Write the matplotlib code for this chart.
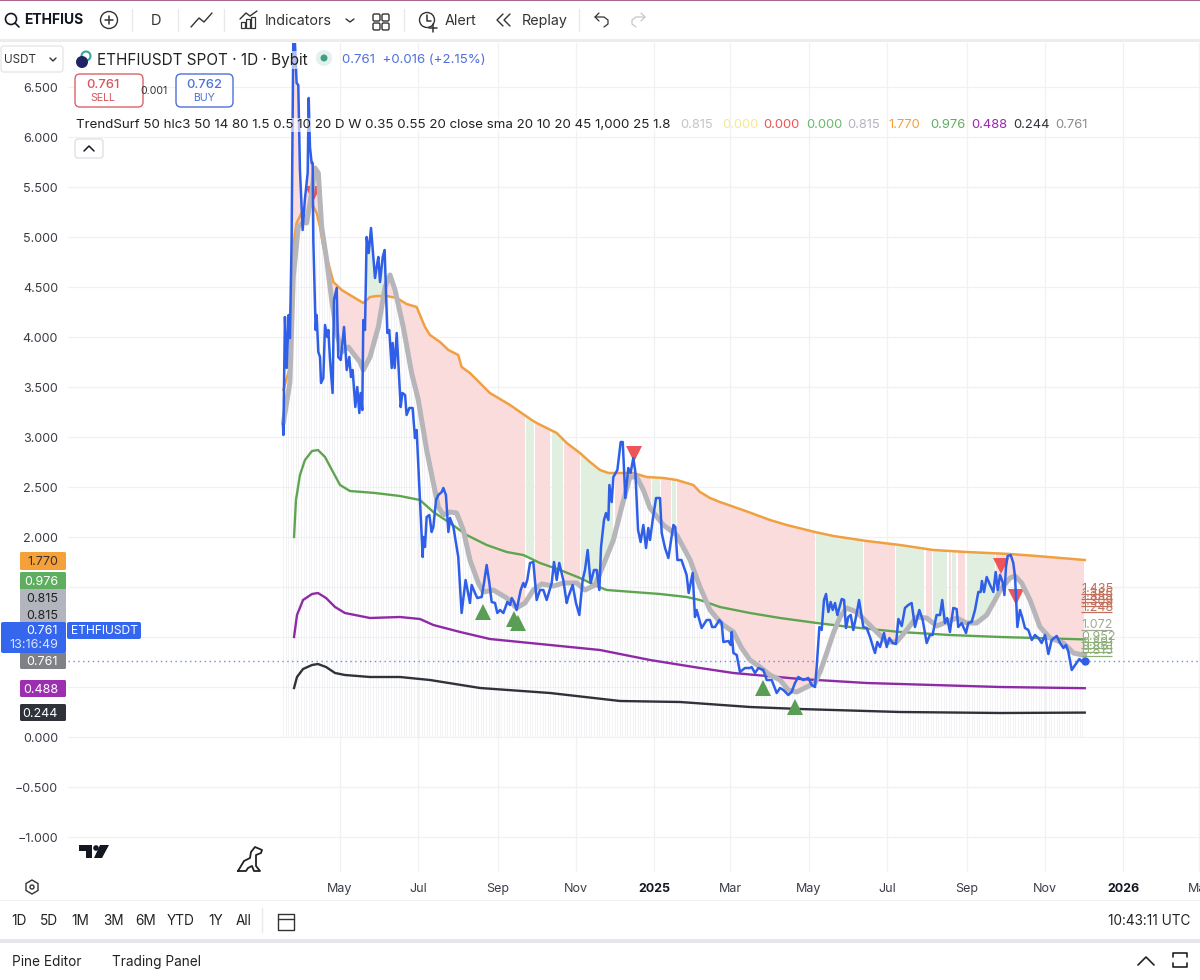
import matplotlib
matplotlib.use('Agg')
import matplotlib.pyplot as plt
import matplotlib.dates as mdates
from matplotlib.patches import FancyBboxPatch, Circle, Rectangle, Polygon
import numpy as np
import pandas as pd

plt.rcParams['font.family'] = ['Inter', 'DejaVu Sans']

# all series as days since first bar, price
START = pd.Timestamp('2024-03-18')

price_days = [0, 0.3, 1.5, 2.9, 4.4, 5.4, 6.7, 8, 9.3, 10.6, 11.9, 13.2, 15.3, 17, 19.2, 20, 21, 22.3, 23.1, 23.6,
              25.4, 26.2, 27.5, 28.8, 29.6, 31.4, 32.7, 34.5, 35.3, 36.6, 38.6, 39.7, 41.8, 43, 44.9, 47.5, 49.6,
              51.6, 52.9, 54.2, 56.3, 57.8, 59.4, 60.4, 61.7, 62.5, 63.8, 65.1, 66.7, 68.5, 71.6, 72.9, 74.2, 75.5,
              77.6, 79.1, 81.2, 82.7, 84.6, 85.3, 86.9, 88.5, 91.6, 92.9, 95, 96.2, 98.3, 100.9, 102.7, 104,
              108.7, 109.2, 110.5, 111.8, 113.9, 115.7, 117, 119.1, 120.9, 123.5, 124.8, 126.8, 128.7, 130, 132.6,
              136.4, 139, 142.1, 145.5, 146.8, 149.4, 151.2, 154.6, 156.4, 158.5, 160.6, 162.4, 165, 166.8, 168.9,
              171.5, 174.6, 176.7, 178, 179.8, 181.8, 185, 187, 188.3, 190.1, 192.2, 194.8, 197.4, 200, 202.6,
              205.2, 209.1, 210.9, 213, 215, 218.1, 220.8, 222, 225.4, 228, 230.6, 233.2, 235, 237.1, 239.4, 242,
              244.1, 246.2, 247.5, 249.8, 251.4, 253.2, 254, 255.8, 257.1, 260.2, 262.8, 264.4, 266.4, 268.7,
              270.5, 272.6, 274.2, 276.3, 278.3, 280.4, 282.5, 284.3, 285.6, 287.7, 290.3, 293.4, 294.7, 297.3,
              299.9, 301.7, 303.8, 305.3, 306.9, 310.1, 314.1, 315.7, 318.8, 320.6, 321.9, 325.8, 329.7, 332.3,
              333.9, 336.2, 339.6, 341.4, 342.7, 346.6, 348.4, 349.2, 350.5, 353.1, 355.6, 359.5, 363.4, 364.7,
              367.3, 369.9, 373.8, 376.4, 380.3, 384.2, 386.8, 389.4, 393.2, 395.8, 398.4, 401, 404.9, 408.8,
              411.4, 414, 415.3, 417.4, 419.2, 421, 422.6, 424.4, 426.2, 427.8, 429.6, 431.4, 434.8, 436.6, 438.1,
              439.9, 441.8, 443.8, 445.9, 448.3, 451.6, 454.2, 456.8, 459.4, 460.7, 462.5, 464.6, 467.7, 469.8,
              471.9, 474.4, 477, 478.9, 481.5, 484, 486.6, 489.2, 491.8, 495.2, 497.8, 500.9, 503.4, 505.5, 508.6,
              511.3, 513, 515.1, 516.9, 519, 521.6, 524.2, 525.5, 528.1, 531.5, 533.3, 535.9, 538.5, 541.1, 542.9,
              543.9, 545.5, 547.6, 550.2, 552.8, 554.6, 556.2, 558, 560, 561.4, 562.6, 563.9, 566.3, 568.3, 569.7,
              571.5, 573.5, 575.4, 577.4, 580, 582.7, 585.2, 587.8, 590.4, 593, 595.6, 598.2, 602.1, 604.7, 607.3,
              609.3, 611.2, 613.8, 616.4, 619.7, 622.3, 623.9]
price_vals = [3.12, 3.02, 4.20, 3.69, 4.22, 3.99, 4.97, 6.94, 6.94, 6.54, 6.52, 5.67, 5.07, 5.37, 5.64, 6.39, 5.90, 5.74, 5.74, 4.97,
              4.07, 4.22, 3.85, 3.80, 3.54, 3.59, 4.12, 4.00, 4.07, 3.77, 3.44, 4.37, 4.49, 3.80, 3.77, 4.10, 3.67,
              3.80, 3.60, 3.67, 3.30, 3.50, 3.24, 3.44, 3.27, 4.17, 4.07, 5.00, 4.84, 5.09, 4.59, 4.70, 4.80, 4.55,
              4.80, 4.87, 4.04, 4.07, 3.69, 3.94, 3.69, 4.04, 3.30, 3.44, 3.42, 3.22, 3.29, 3.29, 2.99, 3.07,
              1.80, 2.00, 1.90, 2.20, 2.22, 2.05, 2.10, 2.37, 2.42, 2.45, 2.49, 2.42, 2.05, 2.19, 2.10,
              1.80, 1.24, 1.57, 1.34, 1.52, 1.44, 1.39, 1.40, 1.54, 1.72, 1.54, 1.35, 1.34, 1.24, 1.27,
              1.24, 1.35, 1.32, 1.39, 1.35, 1.27, 1.47, 1.54, 1.50, 1.57, 1.74, 1.75, 1.37, 1.47, 1.47,
              1.37, 1.54, 1.75, 1.57, 1.74, 1.57, 1.34, 1.40, 1.52, 1.34, 1.22, 1.57, 1.67, 1.87, 1.54, 1.67,
              1.67, 1.47, 1.90, 2.17, 2.24, 2.17, 2.52, 2.35, 2.60, 2.67, 2.95, 2.95, 2.39, 2.69,
              2.64, 2.79, 2.65, 2.07, 1.95, 2.12, 1.89, 2.09, 1.97, 2.17, 2.39, 2.39, 2.04, 1.89,
              1.79, 1.94, 2.12, 2.10, 1.77, 1.77, 1.62, 1.44, 1.64, 1.20, 1.27, 1.09, 1.17, 1.17,
              1.10, 1.10, 1.17, 1.14, 0.95, 0.96, 0.92, 1.05, 0.84, 0.82, 0.65, 0.69, 0.69, 0.70,
              0.64, 0.69, 0.67, 0.57, 0.57, 0.44, 0.49, 0.47, 0.42, 0.45, 0.54, 0.60, 0.57, 0.59,
              0.52, 0.50, 0.70, 1.10, 1.07, 1.37, 1.43, 1.25, 1.35, 1.27, 1.34, 1.22, 1.38, 1.37, 1.09,
              1.20, 1.22, 1.07, 1.20, 1.37, 1.10, 1.09, 1.00, 0.89, 0.84, 0.95, 0.90, 1.04, 0.90,
              0.99, 0.94, 0.93, 1.18, 1.11, 1.29, 1.32, 1.34, 1.10, 1.27, 1.17, 0.94, 1.02, 1.02, 1.22,
              1.22, 1.37, 1.14, 1.19, 1.05, 1.29, 1.28, 1.10, 1.14, 1.04, 1.14, 1.15, 1.27, 1.45, 1.45,
              1.56, 1.45, 1.60, 1.52, 1.45, 1.65, 1.47, 1.62, 1.55, 1.42, 1.70, 1.81, 1.82, 1.74, 1.60,
              1.10, 1.27, 1.19, 1.09, 1.07, 0.97, 1.02, 0.99, 0.94, 1.02, 0.83, 0.97, 1.01, 0.94, 0.89,
              0.92, 0.85, 0.67, 0.72, 0.78, 0.75, 0.761]

ma_days = [0.3, 5.4, 8, 11.9, 15.8, 18.4, 22.3, 24.9, 27.5, 30.1, 34, 37.9, 41.8, 45.7, 50.8, 59.9, 62.5, 67.7, 74.2, 79.4,
           83.3, 87.2, 93.6, 100.1, 105.3, 111.8, 117, 120.9, 124.8, 130, 135.1, 140.3, 145.5, 152, 155.9, 163.7, 174.1,
           181.8, 188.3, 194.8, 201.3, 210.4, 218.1, 228.5, 235, 242.8, 249.3, 257.1, 263.6, 270, 275.3, 280.4, 285.6,
           296, 306.4, 316.8, 324.5, 332.3, 338.8, 342.7, 350.5, 356.9, 363.4, 371.2, 379, 386.8, 393.2, 399.7, 407.5,
           414, 417.9, 423.1, 428.3, 433.5, 438.6, 446.4, 454.2, 462, 469.8, 477.5, 485.3, 493.1, 500.9, 508.7, 516.5,
           524.2, 532, 539.8, 547.6, 555.4, 558, 565.8, 569.7, 574.8, 581.3, 589.1, 596.9, 607.3, 615.1, 623.9]
ma_vals = [3.14, 3.55, 4.60, 5.10, 5.15, 5.14, 5.44, 5.69, 5.64, 5.10, 4.77, 4.37, 4.04, 3.85, 3.90, 3.75, 3.67, 3.80, 4.10, 4.50,
           4.62, 4.47, 4.10, 3.64, 3.37, 2.87, 2.54, 2.30, 2.22, 2.25, 2.24, 2.07, 1.77, 1.54, 1.45, 1.47, 1.39,
           1.29, 1.34, 1.47, 1.53, 1.51, 1.54, 1.54, 1.47, 1.52, 1.72, 1.97, 2.30, 2.60, 2.60, 2.47, 2.29,
           2.12, 2.02, 1.77, 1.50, 1.27, 1.17, 1.12, 1.05, 0.89, 0.77, 0.70, 0.62, 0.57, 0.47, 0.45, 0.50,
           0.54, 0.65, 0.84, 1.04, 1.20, 1.29, 1.25, 1.15, 1.05, 0.95, 0.95, 1.07, 1.20, 1.19, 1.11, 1.15,
           1.19, 1.14, 1.14, 1.22, 1.40, 1.47, 1.59, 1.61, 1.54, 1.37, 1.10, 0.99, 0.94, 0.84, 0.815]

orange_days = [0.3, 5.4, 6.7, 8.6, 10.6, 14.5, 18.4, 22.3, 26.2, 28.8, 31.4, 35.3, 39.2, 45.7, 54.7, 62.5, 67.7, 72.9, 80.7,
               88.5, 96.2, 104, 110.5, 114.4, 122.2, 128.7, 136.4, 139, 145.5, 161, 176.7, 193.5, 197.4, 213, 220.8,
               231.1, 238.9, 246.7, 253.2, 262.3, 272.6, 283, 296, 306.4, 319.3, 324.5, 332.3, 340, 360, 379, 392,
               413.9, 428.3, 454.2, 480.2, 506.1, 532, 565.8, 586.5, 623.9]
orange_vals = [3.47, 3.70, 4.30, 4.97, 5.14, 5.24, 5.20, 5.34, 5.24, 5.10, 4.90, 4.74, 4.55, 4.47, 4.40, 4.34, 4.40, 4.41, 4.41,
               4.39, 4.33, 4.30, 4.10, 4.02, 3.95, 3.87, 3.82, 3.70, 3.64, 3.44, 3.32, 3.17, 3.14, 3.04, 2.94,
               2.84, 2.75, 2.67, 2.64, 2.64, 2.64, 2.60, 2.59, 2.57, 2.52, 2.45, 2.39, 2.35, 2.26, 2.17, 2.12,
               2.05, 2.01, 1.96, 1.92, 1.87, 1.85, 1.83, 1.81, 1.77]

green_days = [8.6, 10.1, 13.2, 17.1, 22.6, 27.2, 32.7, 38.1, 44.4, 52.1, 71.6, 91, 106.6, 117, 130, 142.9, 158.5, 174.1, 187, 200, 215.6,
              231.1, 244.1, 251.9, 272.6, 293.4, 314.1, 324.5, 340, 363.4, 386.8, 415.3, 441.3, 480.2, 519, 558, 623.9]
green_vals = [2.00, 2.37, 2.62, 2.77, 2.86, 2.87, 2.80, 2.67, 2.52, 2.46, 2.44, 2.41, 2.37, 2.25, 2.14, 2.02, 1.92, 1.85, 1.82, 1.74, 1.67,
              1.59, 1.51, 1.47, 1.45, 1.43, 1.40, 1.37, 1.30, 1.24, 1.19, 1.14, 1.10, 1.05, 1.02, 1.00, 0.976]

purple_days = [8.6, 10.9, 15.6, 22.6, 27.2, 33.5, 40.5, 48.2, 67.7, 91, 106.6, 117, 137.9, 161, 200, 246.7, 285.6, 324.5, 350.5,
               402.4, 454.2, 506, 558, 623.9]
purple_vals = [1.00, 1.22, 1.37, 1.43, 1.44, 1.39, 1.30, 1.24, 1.19, 1.20, 1.18, 1.12, 1.05, 0.98, 0.93, 0.87, 0.77, 0.69, 0.64,
               0.58, 0.54, 0.52, 0.50, 0.488]

black_days = [8.6, 10.9, 15.6, 22.6, 27.2, 33.5, 40.5, 48.2, 67.7, 91, 114.4, 153.3, 207.8, 262.3, 309, 363.4, 402.3, 480, 558, 623.9]
black_vals = [0.49, 0.60, 0.68, 0.72, 0.73, 0.70, 0.64, 0.62, 0.60, 0.60, 0.57, 0.49, 0.44, 0.36, 0.35, 0.30, 0.28, 0.25, 0.24, 0.244]

# bullish stretches of the band, everything else is red
bull_spans = [(189, 195), (209, 218), (232, 239), (240, 257), (287, 293), (303, 306), (415, 451.6), (477, 499),
              (506, 517), (521, 524), (532, 554)]

buy_days = [155.6, 179.8, 182.9, 373.5, 398.4]
buy_vals = [1.25, 1.18, 1.14, 0.49, 0.30]
sell_days = [23.3, 273.2, 558.8, 570.4]
sell_vals = [5.43, 2.83, 1.71, 1.40]

level_vals = [1.435, 1.385, 1.355, 1.309, 1.248, 1.072, 0.952, 0.891, 0.851, 0.815]
level_cols = ['#c0705c'] * 5 + ['#a3a892', '#8fae78', '#8fae78', '#8fae78', '#8fae78']

y_ticks = [-1.0, -0.5, 0.0, 0.5, 1.0, 1.5, 2.0, 2.5, 3.0, 3.5, 4.0, 4.5, 5.0, 5.5, 6.0, 6.5]
y_labels_hidden = [0.5, 1.0, 1.5]   # covered by price tags
x_dates = ['2024-05-01', '2024-07-01', '2024-09-01', '2024-11-01', '2025-01-01', '2025-03-01', '2025-05-01',
           '2025-07-01', '2025-09-01', '2025-11-01', '2026-01-01', '2026-03-01']
x_labels = ['May', 'Jul', 'Sep', 'Nov', '2025', 'Mar', 'May', 'Jul', 'Sep', 'Nov', '2026', 'Mar']

legend_text = 'TrendSurf 50 hlc3 50 14 80 1.5 0.5 10 20 D W 0.35 0.55 20 close sma 20 10 20 45 1,000 25 1.8'
legend_vals = ['0.815', '0.000', '0.000', '0.000', '0.815', '1.770', '0.976', '0.488', '0.244', '0.761']
legend_cols = ['#c4c4c8', '#f7e98e', '#ef5350', '#66bb6a', '#b2b5be', '#f6a03a', '#5fae5f', '#9c27b0', '#30323a', '#8a8a90']
legend_x = [680, 722, 763, 806, 847, 888, 930, 971, 1013, 1055]

BLUE = '#2f5fe8'
W, H = 1200, 980
fig = plt.figure(figsize=(W / 100, H / 100), dpi=100, facecolor='white')

# chart pane, placed in figure pixels
ax = fig.add_axes([68 / W, 1 - 872 / H, (W - 68) / W, (872 - 43) / H])
to_x = lambda d: mdates.date2num(START) + np.asarray(d, dtype=float)
ax.set_xlim(to_x(-167.3), to_x(713.6))
ax.set_ylim((737 - 872) / 100, (737 - 43) / 100)
for s in ax.spines.values():
    s.set_visible(False)
ax.set_xticks(mdates.date2num(pd.to_datetime(x_dates)))
ax.set_yticks(y_ticks)
ax.set_xticklabels([])
ax.set_yticklabels([])
ax.tick_params(length=0)
ax.grid(True, color='#f0f1f3', lw=0.9)
ax.set_axisbelow(True)

# band fill on a daily grid so orange and the average line up
grid = np.arange(0, 624)
orange_d = np.interp(grid, orange_days, orange_vals)
ma_d = np.interp(grid, ma_days, ma_vals)
green_d = np.interp(grid, green_days, green_vals)
price_d = np.interp(grid, price_days, price_vals)
bull = np.zeros(len(grid), dtype=bool)
for a, b in bull_spans:
    bull |= (grid >= a) & (grid <= b)
low_bull = np.maximum(ma_d, green_d)
ax.fill_between(to_x(grid), orange_d, ma_d, where=~bull & (grid > 3), color='#fadcdc', lw=0, step='mid', zorder=1)
ax.fill_between(to_x(grid), orange_d, low_bull, where=bull, color='#e0efe0', lw=0, step='mid', zorder=1)
ax.fill_between(to_x(grid), orange_d, price_d, where=(price_d > orange_d) & (grid > 60) & (grid < 82),
                color='#e0efe0', lw=0, zorder=1)
# first spike sits above the band and is shaded red too
ax.fill_between(to_x(grid), orange_d, price_d, where=(price_d > orange_d) & (grid > 5) & (grid < 26),
                color='#fadcdc', lw=0, zorder=1)

# faint volume-like bars under the band
ax.vlines(to_x(grid[::2]), 0, np.minimum(ma_d, orange_d)[::2], color='#eeeff2', lw=0.5, zorder=1.5)

ax.plot(to_x(buy_days), buy_vals, '^', color='#5a9e55', ms=12, mew=0, zorder=3.5)
ax.plot(to_x(sell_days), sell_vals, 'v', color='#ee5558', ms=12, mew=0, zorder=3.5)
ax.plot(to_x(black_days), black_vals, color='#30323a', lw=1.7, zorder=3)
ax.plot(to_x(purple_days), purple_vals, color='#8e2aa5', lw=1.7, zorder=3)
ax.plot(to_x(green_days), green_vals, color='#5fa551', lw=1.7, zorder=3)
ax.plot(to_x(orange_days), orange_vals, color='#f0a040', lw=1.8, zorder=3)
ax.plot(to_x(ma_days), ma_vals, color='#b5b5ba', lw=3.6, zorder=4, solid_capstyle='round')
ax.axhline(price_vals[-1], color=BLUE, lw=1, ls=(0, (1, 2.5)), alpha=0.7, zorder=3)
ax.plot(to_x(price_days), price_vals, color=BLUE, lw=1.8, zorder=5, solid_joinstyle='round')
ax.plot(to_x(price_days[-1:]), price_vals[-1:], 'o', color=BLUE, ms=5, zorder=6)

for v, c in zip(level_vals, level_cols):
    ax.hlines(v, to_x(621), to_x(645), color=c, lw=0.9, zorder=6)
    ax.text(to_x(621), v + 0.015, '%.3f' % v, color=c, fontsize=9, va='baseline', ha='left', zorder=6)

# interface chrome, drawn in pixel coordinates
ui = fig.add_axes([0, 0, 1, 1], zorder=10)
ui.set_xlim(0, W)
ui.set_ylim(H, 0)
ui.axis('off')


def txt(x, y, s, size=10, color='#131722', ha='left', weight='normal', bg=None):
    bbox = dict(fc='white', ec='none', alpha=bg, pad=1) if bg else None
    return ui.text(x, y, s, fontsize=size, color=color, ha=ha, va='center', weight=weight, bbox=bbox)


def box(x0, y0, x1, y1, fc='white', ec='none', lw=1, r=2):
    ui.add_patch(FancyBboxPatch((x0 + r, y0 + r), x1 - x0 - 2 * r, y1 - y0 - 2 * r,
                                boxstyle='round,pad=%g,rounding_size=%g' % (r, r), fc=fc, ec=ec, lw=lw))


def line(xs, ys, color='#333333', lw=1.1):
    ui.plot(xs, ys, color=color, lw=lw, solid_capstyle='round')


# y tick labels
for v in y_ticks:
    if v in y_labels_hidden:
        continue
    txt(58, 739 - v * 100, '%.3f' % v if v >= 0 else '\u2212%.3f' % abs(v), size=9.0, color='#3a3d46', ha='right')

# x tick labels
for d, s in zip(x_dates, x_labels):
    px = 283 + (pd.Timestamp(d) - START).days * 1.285
    bold = s in ('2025', '2026')
    txt(px, 888.5, s, size=9.0, color='#131722' if bold else '#3a3d46', ha='center', weight='bold' if bold else 'normal')

# top toolbar
ui.add_patch(Rectangle((0, 0), W, 1.5, fc='#a8648c', ec='none'))
ui.add_patch(Rectangle((0, 39), W, 3, fc='#ececee', ec='none'))
ui.add_patch(Circle((11, 19), 5.5, fc='none', ec='#131722', lw=1.2))
line([15, 19], [23, 27], '#131722', 1.2)
txt(24, 20, 'ETHFIUS', size=10, weight='bold')
ui.add_patch(Circle((109, 20), 8.5, fc='none', ec='#333333', lw=1))
line([105, 113], [20, 20])
line([109, 109], [16, 24])
txt(156, 21, 'D', size=10.5, ha='center', color='#333333')
line([191, 199, 204, 212], [27, 18, 22, 13], '#333333', 1)
for sx in (132, 178, 224, 404, 579):
    line([sx, sx], [9, 31], '#e8e9ec', 1)
line([240, 246, 250, 257], [19, 13, 16, 11], '#333333', 1)
for bx, bt in zip((241, 246, 251), (22, 19, 17)):
    ui.add_patch(Rectangle((bx, bt), 4, 28 - bt, fc='none', ec='#333333', lw=0.9))
txt(265, 21, 'Indicators', size=10.3, color='#333333')
line([346, 350, 354], [19, 22, 19], '#333333', 1)
for qx in (373, 382):
    for qy in (14, 23):
        box(qx, qy, qx + 7, qy + 7, fc='none', ec='#333333', lw=1, r=1.5)
ui.add_patch(Circle((427, 20), 7.5, fc='none', ec='#333333', lw=1))
line([427, 427, 431], [15, 21, 21])
line([433, 433], [24, 32])
line([429, 437], [28, 28])
txt(445, 21, 'Alert', size=10.3, color='#333333')
line([503, 497, 503], [14, 20, 26], '#333333', 1)
line([510, 504, 510], [14, 20, 26], '#333333', 1)
txt(522, 21, 'Replay', size=10.3, color='#333333')
# undo / redo
line([595, 604, 608, 608, 604], [17, 17, 20, 24, 27], '#333333', 0.9)
line([599, 595, 599], [13, 17, 21], '#333333', 0.9)
line([645, 636, 632, 632, 636], [17, 17, 20, 24, 27], '#c4c6cc', 0.9)
line([641, 645, 641], [13, 17, 21], '#c4c6cc', 0.9)

# header over the chart
box(1, 46, 63, 72, ec='#e6e7ea', lw=1, r=3)
txt(4, 60, 'USDT', size=8.4, color='#333333')
line([50, 53, 56], [58, 61, 58], '#333333', 1)
ui.add_patch(Circle((86, 56), 4.5, fc='none', ec='#35a79c', lw=1.5))
ui.add_patch(Circle((82, 62), 6, fc='#1f2466', ec='none'))
txt(97, 60, 'ETHFIUSDT SPOT \u00b7 1D \u00b7 Bybit', size=11, color='#222222', bg=0.6)
ui.add_patch(Circle((324, 58), 8, fc='#e3f1ec', ec='none'))
ui.add_patch(Circle((324, 58), 3.5, fc='#3f9f86', ec='none'))
txt(342, 60, '0.761  +0.016 (+2.15%)', size=9.5, color='#4e6fdc', bg=0.6)
box(75, 74, 143, 107, ec='#d9636b', lw=1, r=5)
txt(103, 85, '0.761', size=9.3, color='#d9535b', ha='center', weight='medium')
txt(103, 98, 'SELL', size=7.6, color='#d9535b', ha='center')
txt(154, 91, '0.001', size=7.6, color='#333333', ha='center')
box(176, 74, 233, 107, ec='#4d70dc', lw=1, r=5)
txt(204, 85, '0.762', size=9.3, color='#4d70dc', ha='center', weight='medium')
txt(204, 98, 'BUY', size=7.6, color='#4d70dc', ha='center')
txt(76, 125, legend_text, size=9.6, color='#222222', bg=0.6)
for lx, lv, lc in zip(legend_x, legend_vals, legend_cols):
    txt(lx, 125, lv, size=9.3, color=lc)
box(75, 139, 103, 158, ec='#e0e1e5', lw=1, r=3)
line([84, 89, 94], [151, 146, 151], '#131722', 1.1)

# price tags on the scale
tags = [(20, 552, 66, 570, '#f6a03a', '1.770', '#333333'),
        (20, 572, 66, 590, '#5fae5f', '0.976', 'white'),
        (20, 589, 66, 607, '#b2b5be', '0.815', '#222222'),
        (20, 606, 66, 624, '#b2b5be', '0.815', '#222222'),
        (20, 652, 66, 669, '#808187', '0.761', 'white'),
        (20, 680, 66, 697, '#9c2fb0', '0.488', 'white'),
        (20, 704, 66, 721, '#30323a', '0.244', 'white')]
for x0, y0, x1, y1, fc, s, tc in tags:
    box(x0, y0, x1, y1, fc=fc, r=1.5)
    txt(58, (y0 + y1) / 2 + 1, s, size=9.0, color=tc, ha='right')
box(1, 622, 66, 653, fc='#3566ee', r=2)
txt(58, 631, '0.761', size=9.0, color='white', ha='right')
txt(58, 645, '13:16:49', size=9.0, color='#dbe4ff', ha='right')
box(67, 622, 141, 639, fc='#3566ee', r=2)
txt(71, 631, 'ETHFIUSDT', size=8.7, color='white')

# TV logo and dino
ui.add_patch(Polygon([[79, 845], [92, 845], [92, 858], [86, 858], [86, 851], [79, 851]], fc='#131722', ec='none'))
ui.add_patch(Circle((96, 848), 2.8, fc='#131722', ec='none'))
ui.add_patch(Polygon([[100, 845], [109, 845], [102, 858], [94, 858]], fc='#131722', ec='none'))
line([238, 244, 250, 251, 255, 262, 261, 256, 256, 260, 254, 252, 248, 246, 244, 238],
     [871, 861, 858, 852, 847, 850, 853, 855, 866, 871, 871, 866, 868, 871, 871, 871], '#222222', 1.3)

# bottom bars
ui.add_patch(Polygon([[32, 880], [38, 883.5], [38, 890.5], [32, 894], [26, 890.5], [26, 883.5]], fc='none', ec='#333333', lw=1))
ui.add_patch(Circle((32, 887), 2, fc='none', ec='#333333', lw=1))
ui.add_patch(Rectangle((0, 899.5), W, 1.5, fc='#eeeff1', ec='none'))
ui.add_patch(Rectangle((0, 939), W, 4, fc='#e6e7ea', ec='none'))
for rx, rs in zip((11, 40, 71, 103, 135, 167, 208, 236), ('1D', '5D', '1M', '3M', '6M', 'YTD', '1Y', 'All')):
    txt(rx, 920.5, rs, size=9.8, color='#222222')
line([262, 262], [908, 932], '#e8e9ec', 1)
line([278, 294, 294, 278, 278], [914, 914, 930, 930, 914], '#333333', 1)
line([278, 294], [919, 919], '#333333', 1)
txt(1190, 920.5, '10:43:11 UTC', size=9.8, color='#222222', ha='right')
txt(12, 962, 'Pine Editor', size=9.8, color='#222222')
txt(112, 962, 'Trading Panel', size=9.8, color='#222222')
line([1138, 1146, 1154], [965, 957, 965], '#222222', 1.2)
line([1173, 1173, 1187, 1187], [957, 953, 953, 957], '#222222', 1.2)
line([1173, 1173, 1187, 1187], [963, 967, 967, 963], '#222222', 1.2)

fig.savefig('out.png', dpi=100, facecolor='white')
